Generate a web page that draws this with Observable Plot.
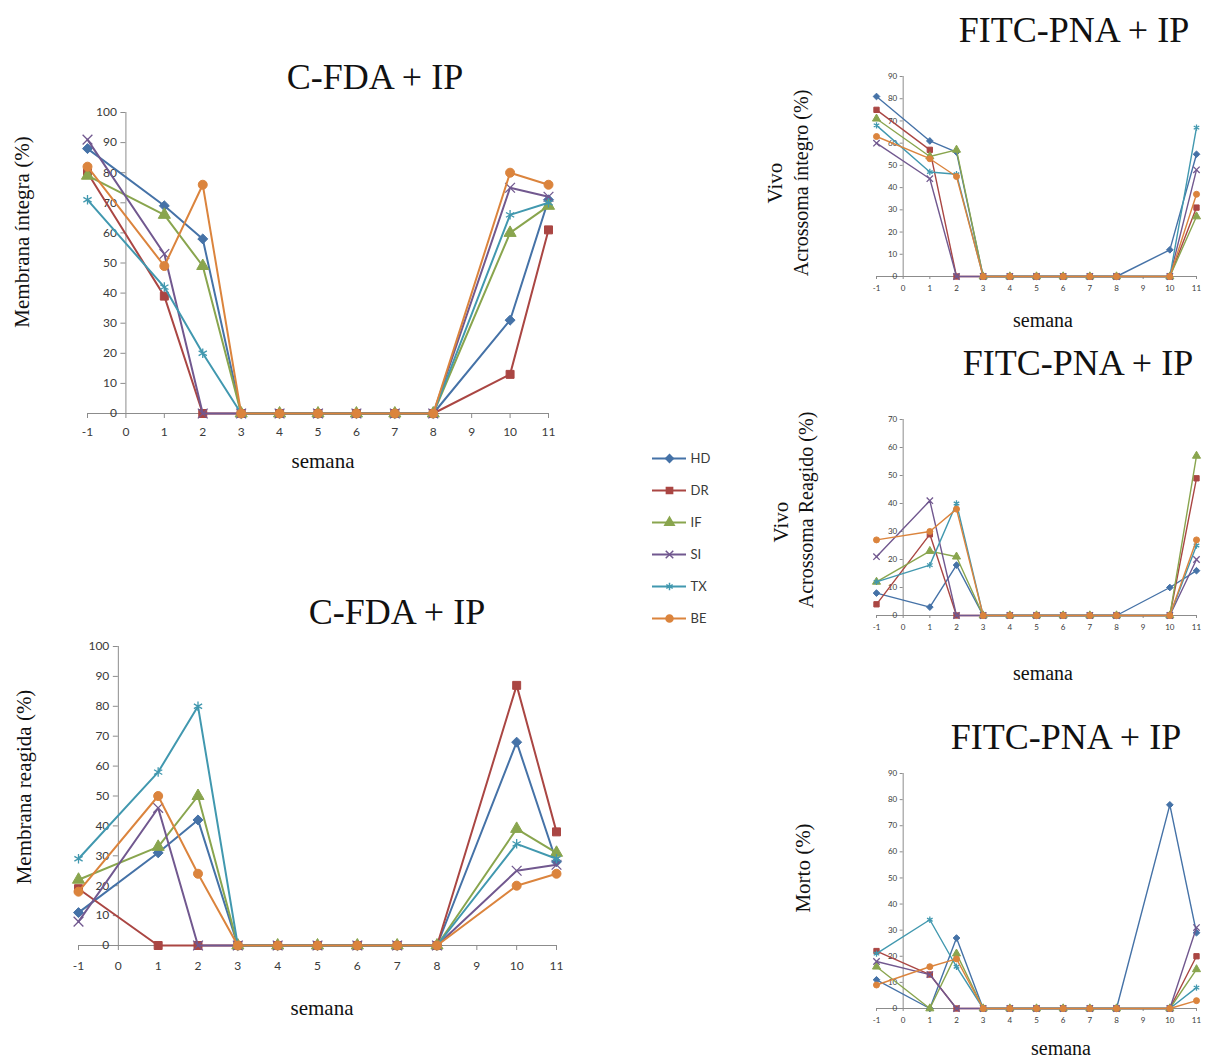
<!DOCTYPE html>
<html><head><meta charset="utf-8">
<script src="https://cdn.jsdelivr.net/npm/d3@7"></script>
<script src="https://cdn.jsdelivr.net/npm/@observablehq/plot@0.6"></script>
<style>
body{margin:0;background:#fff;}
#root{position:relative;width:1206px;height:1059px;overflow:hidden;background:#fff;}
.title{position:absolute;font-family:"Liberation Serif","Times New Roman",serif;color:#111;white-space:nowrap;transform:translate(-50%,-50%);line-height:1;}
.ylab{position:absolute;font-family:"Liberation Serif","Times New Roman",serif;color:#111;white-space:nowrap;transform:translate(-50%,-50%) rotate(-90deg);line-height:1;}
</style></head><body><div id="root"></div>
<script>
// ---- data ----
const weeks = [-1, 1, 2, 3, 4, 5, 6, 7, 8, 10, 11];
const xTicks = [-1, 0, 1, 2, 3, 4, 5, 6, 7, 8, 9, 10, 11];
const series = ["HD", "DR", "IF", "SI", "TX", "BE"];
const colors = ["#4572A7", "#AA4643", "#89A54E", "#71588F", "#4198AF", "#DB843D"];
const symbols = ["diamond2", "square", "triangle", "times", "asterisk", "circle"];

// C-FDA + IP : Membrana íntegra (%)
const membranaIntegra = [
  [88, 69, 58, 0, 0, 0, 0, 0, 0, 31, 71],
  [80, 39, 0, 0, 0, 0, 0, 0, 0, 13, 61],
  [79, 66, 49, 0, 0, 0, 0, 0, 0, 60, 69],
  [91, 53, 0, 0, 0, 0, 0, 0, 0, 75, 72],
  [71, 42, 20, 0, 0, 0, 0, 0, 0, 66, 70],
  [82, 49, 76, 0, 0, 0, 0, 0, 0, 80, 76]
];
// C-FDA + IP : Membrana reagida (%)
const membranaReagida = [
  [11, 31, 42, 0, 0, 0, 0, 0, 0, 68, 28],
  [19, 0, 0, 0, 0, 0, 0, 0, 0, 87, 38],
  [22, 33, 50, 0, 0, 0, 0, 0, 0, 39, 31],
  [8, 46, 0, 0, 0, 0, 0, 0, 0, 25, 27],
  [29, 58, 80, 0, 0, 0, 0, 0, 0, 34, 29],
  [18, 50, 24, 0, 0, 0, 0, 0, 0, 20, 24]
];
// FITC-PNA + IP : Vivo, Acrossoma íntegro (%)
const acrossomaIntegro = [
  [81, 61, 56, 0, 0, 0, 0, 0, 0, 12, 55],
  [75, 57, 0, 0, 0, 0, 0, 0, 0, 0, 31],
  [71, 54, 57, 0, 0, 0, 0, 0, 0, 0, 27],
  [60, 44, 0, 0, 0, 0, 0, 0, 0, 0, 48],
  [68, 47, 46, 0, 0, 0, 0, 0, 0, 0, 67],
  [63, 53, 45, 0, 0, 0, 0, 0, 0, 0, 37]
];
// FITC-PNA + IP : Vivo, Acrossoma Reagido (%)
const acrossomaReagido = [
  [8, 3, 18, 0, 0, 0, 0, 0, 0, 10, 16],
  [4, 29, 0, 0, 0, 0, 0, 0, 0, 0, 49],
  [12, 23, 21, 0, 0, 0, 0, 0, 0, 0, 57],
  [21, 41, 0, 0, 0, 0, 0, 0, 0, 0, 20],
  [12, 18, 40, 0, 0, 0, 0, 0, 0, 0, 25],
  [27, 30, 38, 0, 0, 0, 0, 0, 0, 0, 27]
];
// FITC-PNA + IP : Morto (%)
const morto = [
  [11, 0, 27, 0, 0, 0, 0, 0, 0, 78, 29],
  [22, 13, 0, 0, 0, 0, 0, 0, 0, 0, 20],
  [16, 0, 21, 0, 0, 0, 0, 0, 0, 0, 15],
  [18, 13, 0, 0, 0, 0, 0, 0, 0, 0, 31],
  [21, 34, 16, 0, 0, 0, 0, 0, 0, 0, 8],
  [9, 16, 19, 0, 0, 0, 0, 0, 0, 0, 3]
];
const ticks100 = [0, 10, 20, 30, 40, 50, 60, 70, 80, 90, 100];
const ticks90 = [0, 10, 20, 30, 40, 50, 60, 70, 80, 90];
const ticks70 = [0, 10, 20, 30, 40, 50, 60, 70];

const root = document.getElementById("root");
function place(el, left, top) {
  el.style.position = "absolute"; el.style.left = left + "px"; el.style.top = top + "px";
  root.appendChild(el);
}
function label(cls, text, x, y, size) {
  const d = document.createElement("div");
  d.className = cls; d.textContent = text;
  d.style.left = x + "px"; d.style.top = y + "px"; d.style.fontSize = size + "px";
  root.appendChild(d);
}
const isStroked = s => s === "times" || s === "asterisk";

function chart(o) {
  const marks = [];
  const axisColor = "#8c8c8c";
  marks.push(Plot.ruleY([0], {stroke: axisColor, strokeWidth: 1}));
  marks.push(Plot.ruleX([0], {y1: 0, y2: o.yMax, stroke: axisColor, strokeWidth: 1}));
  marks.push(Plot.ruleY(o.yTicks, {y: d => d, x1: 0, x2: 0, insetLeft: -o.tick, stroke: axisColor}));
  marks.push(Plot.ruleX(xTicks, {x: d => d, y1: 0, y2: 0, insetBottom: -o.tick, stroke: axisColor}));
  marks.push(Plot.text(o.yTicks, {x: 0, y: d => d, text: d => String(d), textAnchor: "end", dx: o.ydx, fontSize: o.fs, fill: "#3a3a3a"}));
  marks.push(Plot.text(xTicks, {x: d => d, y: 0, text: d => String(d), dy: o.xdy, fontSize: o.fs, fill: "#3a3a3a"}));
  series.forEach((s, i) => {
    const pts = weeks.map((w, j) => ({week: w, value: o.values[i][j]}));
    marks.push(Plot.line(pts, {x: "week", y: "value", stroke: colors[i], strokeWidth: o.sw}));
    const stroked = isStroked(symbols[i]);
    marks.push(Plot.dot(pts, {x: "week", y: "value", symbol: symbols[i], r: o.r,
      fill: stroked ? "none" : colors[i], stroke: colors[i], strokeWidth: stroked ? 1.3 : 1}));
  });
  const p = Plot.plot({
    width: o.width, height: o.height,
    marginLeft: o.mL, marginRight: o.mR, marginTop: o.mT, marginBottom: o.mB,
    x: {domain: [-1, 11], axis: null},
    y: {domain: [0, o.yMax], axis: null},
    style: {fontFamily: "Lato, 'Open Sans', sans-serif", background: "transparent", overflow: "visible"},
    marks
  });
  place(p, o.left, o.top);
}

// Chart 1: C-FDA + IP, Membrana íntegra
chart({values: membranaIntegra, yMax: 100, yTicks: ticks100, left: 0, top: 90, width: 580, height: 360,
  mL: 87, mR: 32, mT: 22, mB: 37, fs: 12, r: 4.5, sw: 2, tick: 5, ydx: -9, xdy: 19});
label("title", "C-FDA + IP", 375, 77, 36);
label("ylab", "Membrana íntegra (%)", 22, 232, 21);
label("title", "semana", 323, 461, 21);

// Chart 2: C-FDA + IP, Membrana reagida
chart({values: membranaReagida, yMax: 100, yTicks: ticks100, left: 0, top: 620, width: 590, height: 360,
  mL: 78, mR: 34, mT: 26, mB: 35, fs: 12, r: 4.5, sw: 2, tick: 5, ydx: -9, xdy: 21});
label("title", "C-FDA + IP", 397, 612, 36);
label("ylab", "Membrana reagida (%)", 24, 787, 21);
label("title", "semana", 322, 1008, 21);

// Chart 3: FITC-PNA + IP, Vivo Acrossoma íntegro
chart({values: acrossomaIntegro, yMax: 90, yTicks: ticks90, left: 840, top: 60, width: 366, height: 240,
  mL: 36, mR: 10, mT: 16, mB: 24, fs: 8, r: 3, sw: 1.4, tick: 3, ydx: -6, xdy: 12});
label("title", "FITC-PNA + IP", 1074, 30, 36);
label("ylab", "Vivo", 775, 183, 21);
label("ylab", "Acrossoma íntegro (%)", 801, 183, 20);
label("title", "semana", 1043, 320, 20);

// Chart 4: FITC-PNA + IP, Vivo Acrossoma Reagido
chart({values: acrossomaReagido, yMax: 70, yTicks: ticks70, left: 840, top: 400, width: 366, height: 240,
  mL: 36, mR: 10, mT: 19, mB: 25, fs: 8, r: 3, sw: 1.4, tick: 3, ydx: -6, xdy: 12});
label("title", "FITC-PNA + IP", 1078, 363, 36);
label("ylab", "Vivo", 781, 522, 21);
label("ylab", "Acrossoma Reagido (%)", 806, 510, 20);
label("title", "semana", 1043, 673, 20);

// Chart 5: FITC-PNA + IP, Morto
chart({values: morto, yMax: 90, yTicks: ticks90, left: 840, top: 755, width: 366, height: 280,
  mL: 36, mR: 10, mT: 18, mB: 27, fs: 8, r: 3, sw: 1.4, tick: 3, ydx: -6, xdy: 12});
label("title", "FITC-PNA + IP", 1066, 737, 36);
label("ylab", "Morto (%)", 803, 868, 21);
label("title", "semana", 1061, 1048, 20);

// Legend
const legend = Plot.plot({
  width: 90, height: 196, marginLeft: 12, marginRight: 44, marginTop: 18, marginBottom: 18,
  x: {domain: [0, 1], axis: null},
  y: {type: "point", domain: series, padding: 0, axis: null},
  style: {fontFamily: "Lato, 'Open Sans', sans-serif", background: "transparent", overflow: "visible"},
  marks: [
    Plot.ruleY(series, {y: d => d, x1: 0, x2: 1, stroke: (d, i) => colors[i], strokeWidth: 2}),
    Plot.dot(series, {x: 0.5, y: d => d, r: 3.5, symbol: (d, i) => symbols[i],
      fill: (d, i) => isStroked(symbols[i]) ? "none" : colors[i],
      stroke: (d, i) => colors[i]}),
    Plot.text(series, {x: 1, y: d => d, text: d => d, textAnchor: "start", dx: 4, fontSize: 13, fill: "#3a3a3a"})
  ]
});
place(legend, 640, 440);
</script>
</body></html>
